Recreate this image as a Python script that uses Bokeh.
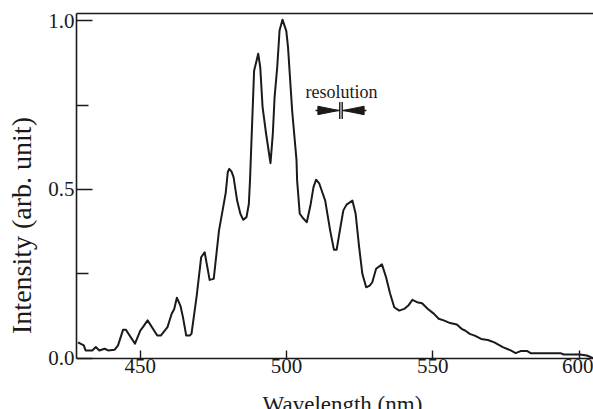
from bokeh.plotting import figure
from bokeh.models import Range1d, LinearAxis, FixedTicker, Label, PrintfTickFormatter
from bokeh.embed import file_html
from bokeh.resources import INLINE

# ---- data ----
wavelength = [428.7, 430.7, 431.3, 433.6, 434.8, 436.0, 437.8, 439.0, 441.2, 442.4,
              444.1, 445.1, 448.2, 450.0, 450.9, 452.5, 455.8, 457.0, 459.3, 460.7,
              461.6, 462.5, 463.7, 464.6, 465.7, 466.9, 467.5, 469.3, 470.8, 472.0,
              473.7, 475.1, 476.9, 479.2, 479.9, 480.4, 481.2, 481.9, 483.1, 484.2,
              485.2, 486.3, 487.1, 487.5, 488.9, 489.9, 490.3, 491.0, 491.8, 493.0,
              494.5, 495.3, 495.9, 496.8, 497.6, 498.6, 499.9, 500.5, 501.9, 503.4,
              503.6, 504.5, 505.8, 506.9, 508.1, 509.2, 510.1, 511.2, 512.0, 513.2,
              514.9, 516.2, 517.1, 518.4, 519.4, 520.5, 522.5, 523.6, 524.8, 525.9,
              527.2, 528.4, 529.3, 530.6, 532.6, 534.0, 535.4, 536.8, 538.5, 540.2,
              541.6, 543.0, 544.6, 546.3, 548.3, 550.3, 552.0, 553.7, 555.9, 558.2,
              559.8, 561.0, 562.6, 564.3, 566.5, 568.8, 571.0, 573.9, 576.6, 578.3,
              580.0, 582.3, 583.4, 589.0, 593.6, 594.7, 600.3, 602.6, 604.8]
intensity = [0.047, 0.038, 0.023, 0.023, 0.033, 0.023, 0.028, 0.023, 0.025, 0.038,
             0.084, 0.084, 0.043, 0.082, 0.092, 0.112, 0.067, 0.067, 0.092, 0.131,
             0.146, 0.179, 0.156, 0.121, 0.067, 0.067, 0.072, 0.186, 0.299, 0.314,
             0.232, 0.235, 0.378, 0.490, 0.551, 0.561, 0.553, 0.536, 0.467, 0.428,
             0.410, 0.418, 0.457, 0.527, 0.852, 0.887, 0.902, 0.862, 0.744, 0.665,
             0.578, 0.665, 0.773, 0.862, 0.971, 1.003, 0.970, 0.921, 0.734, 0.586,
             0.527, 0.428, 0.413, 0.403, 0.450, 0.507, 0.529, 0.517, 0.497, 0.467,
             0.378, 0.321, 0.321, 0.388, 0.438, 0.455, 0.467, 0.428, 0.329, 0.250,
             0.210, 0.215, 0.225, 0.265, 0.278, 0.240, 0.191, 0.151, 0.141, 0.146,
             0.156, 0.173, 0.166, 0.163, 0.146, 0.132, 0.117, 0.112, 0.104, 0.100,
             0.087, 0.082, 0.072, 0.067, 0.057, 0.054, 0.047, 0.033, 0.023, 0.015,
             0.021, 0.021, 0.015, 0.015, 0.015, 0.011, 0.011, 0.008, 0.000]

x_ticks = [450, 500, 550, 600]
y_ticks = [0.0, 0.5, 1.0]
y_minor_ticks = [0.25, 0.75]

x_title = "Wavelength (nm)"
y_title = "Intensity (arb. unit)"
res_text = "resolution"

# ---- view / annotation geometry (data units) ----
X_START, X_END = 428.2, 604.9
Y_START, Y_END = -0.152, 1.0213
RES_C = 518.6      # centre of the resolution marker
RES_HALF = 0.42    # half gap between the two bars
RES_Y = 0.734      # vertical centre of the marker
RES_BAR_H = 0.025  # half height of the bars
RES_TIP = 0.75     # arrow tip distance from centre
RES_BASE = 7.9     # arrowhead base distance from centre
RES_HEAD_H = 0.0125

FONT = "Liberation Serif"
INK = "#1a1a1a"

p = figure(width=593, height=409, output_backend="svg", toolbar_location=None,
           x_range=Range1d(X_START, X_END), y_range=Range1d(Y_START, Y_END),
           min_border_left=76, min_border_right=0, min_border_top=13,
           min_border_bottom=0, background_fill_color="white",
           border_fill_color="white")
p.outline_line_color = None
p.xgrid.visible = False
p.ygrid.visible = False

xa = p.xaxis[0]
xa.fixed_location = 0
xa.ticker = FixedTicker(ticks=x_ticks)
xa.major_tick_in = 8
xa.major_tick_out = 0
xa.minor_tick_line_color = None
xa.axis_line_width = 1.6
xa.axis_line_color = INK
xa.major_tick_line_width = 1.4
xa.major_tick_line_color = INK
xa.major_label_text_font = FONT
xa.major_label_text_font_size = "21px"
xa.major_label_text_color = INK
xa.major_label_standoff = 1

ya = p.yaxis[0]
ya.bounds = (0, Y_END)
ya.ticker = FixedTicker(ticks=y_ticks, minor_ticks=y_minor_ticks)
ya.formatter = PrintfTickFormatter(format="%.1f")
ya.major_tick_in = 16
ya.major_tick_out = 0
ya.minor_tick_in = 12
ya.minor_tick_out = 0
ya.axis_line_width = 1.6
ya.axis_line_color = INK
ya.major_tick_line_width = 1.4
ya.minor_tick_line_width = 1.4
ya.major_tick_line_color = INK
ya.minor_tick_line_color = INK
ya.major_label_text_font = FONT
ya.major_label_text_font_size = "21px"
ya.major_label_text_color = INK
ya.major_label_standoff = 2
# trailing no-break spaces shift the centred title down to where the reference has it
ya.axis_label = y_title + "\u00a0" * 4
ya.axis_label_text_font = FONT
ya.axis_label_text_font_size = "28px"
ya.axis_label_text_font_style = "normal"
ya.axis_label_text_color = INK
ya.axis_label_standoff = 8

top = LinearAxis(ticker=FixedTicker(ticks=[]), major_label_text_font_size="0px",
                 major_tick_line_color=None, minor_tick_line_color=None,
                 major_label_standoff=0, axis_line_width=1.6, axis_line_color=INK)
p.add_layout(top, "above")

p.line(wavelength, intensity, line_width=2, line_color=INK, line_join="round")

# resolution marker
p.segment(x0=[RES_C - RES_HALF, RES_C + RES_HALF], y0=[RES_Y - RES_BAR_H] * 2,
          x1=[RES_C - RES_HALF, RES_C + RES_HALF], y1=[RES_Y + RES_BAR_H] * 2,
          line_color=INK, line_width=1.4)
p.segment(x0=[RES_C - RES_BASE - 0.8, RES_C + RES_HALF], y0=[RES_Y] * 2,
          x1=[RES_C - RES_HALF, RES_C + RES_BASE + 0.8], y1=[RES_Y] * 2,
          line_color=INK, line_width=1.4)
p.patches(xs=[[RES_C - RES_BASE, RES_C - RES_BASE, RES_C - RES_TIP],
              [RES_C + RES_BASE, RES_C + RES_BASE, RES_C + RES_TIP]],
          ys=[[RES_Y - RES_HEAD_H, RES_Y + RES_HEAD_H, RES_Y],
              [RES_Y - RES_HEAD_H, RES_Y + RES_HEAD_H, RES_Y]],
          fill_color=INK, line_color=INK, line_width=1)

p.add_layout(Label(x=RES_C + 0.2, y=0.790, text=res_text, text_font=FONT,
                   text_font_size="18px", text_align="center",
                   text_baseline="alphabetic", text_color=INK))

# x-axis title, drawn inside the (extended) frame below the axis
p.add_layout(Label(x=519.1, y=-0.137, text=x_title, text_font=FONT,
                   text_font_size="23px", text_align="center",
                   text_baseline="alphabetic", text_color=INK))

open("out.html", "w").write(file_html(p, INLINE))
